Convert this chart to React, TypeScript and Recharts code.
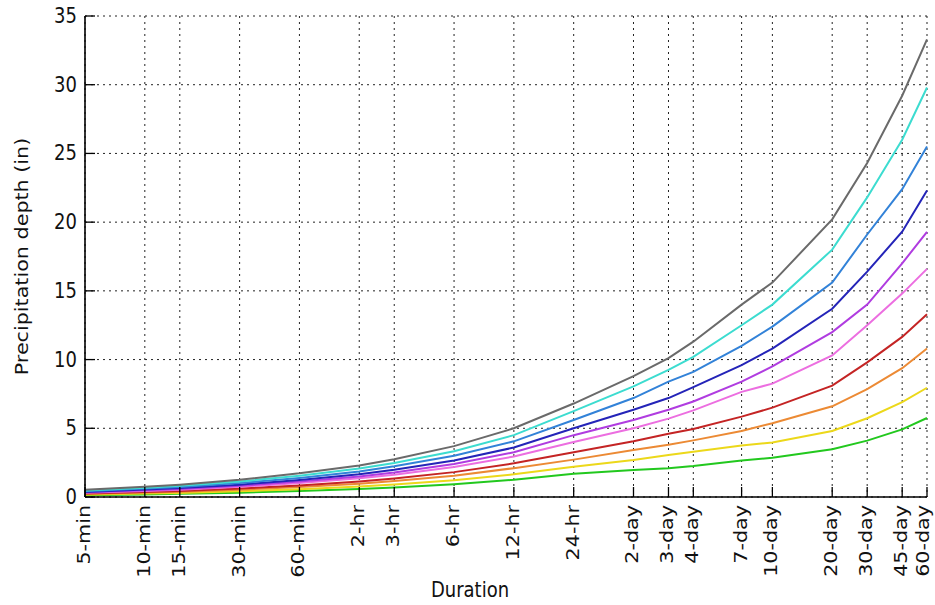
import React from 'react';
import { LineChart, Line, XAxis, YAxis, CartesianGrid } from 'recharts';

const durations = [5, 10, 15, 30, 60, 120, 180, 360, 720, 1440, 2880, 4320, 5760, 10080, 14400, 28800, 43200, 64800, 86400];
const durationLabels = ['5-min', '10-min', '15-min', '30-min', '60-min', '2-hr', '3-hr', '6-hr', '12-hr', '24-hr', '2-day', '3-day', '4-day', '7-day', '10-day', '20-day', '30-day', '45-day', '60-day'];
const depthTicks = [0, 5, 10, 15, 20, 25, 30, 35];

const y1 = [0.13, 0.19, 0.23, 0.31, 0.43, 0.58, 0.69, 0.93, 1.25, 1.7, 1.97, 2.1, 2.25, 2.65, 2.85, 3.47, 4.1, 4.92, 5.75];
const y2 = [0.17, 0.25, 0.3, 0.41, 0.57, 0.76, 0.91, 1.22, 1.65, 2.2, 2.69, 3.06, 3.3, 3.75, 3.97, 4.8, 5.73, 6.9, 7.95];
const y5 = [0.22, 0.32, 0.38, 0.53, 0.72, 0.97, 1.16, 1.55, 2.1, 2.72, 3.42, 3.8, 4.12, 4.8, 5.37, 6.6, 7.85, 9.37, 10.8];
const y10 = [0.25, 0.37, 0.44, 0.61, 0.84, 1.13, 1.35, 1.81, 2.45, 3.25, 4.05, 4.6, 4.95, 5.85, 6.5, 8.1, 9.8, 11.65, 13.3];
const y25 = [0.31, 0.44, 0.53, 0.74, 1.01, 1.36, 1.62, 2.18, 2.95, 4.0, 5.0, 5.7, 6.3, 7.65, 8.25, 10.3, 12.5, 14.8, 16.6];
const y50 = [0.34, 0.49, 0.59, 0.81, 1.12, 1.5, 1.79, 2.4, 3.25, 4.5, 5.6, 6.35, 6.95, 8.4, 9.5, 12.0, 14.0, 17.0, 19.3];
const y100 = [0.37, 0.54, 0.65, 0.9, 1.24, 1.66, 1.98, 2.66, 3.6, 5.0, 6.35, 7.2, 8.0, 9.6, 10.8, 13.7, 16.4, 19.3, 22.3];
const y200 = [0.42, 0.61, 0.73, 1.01, 1.39, 1.86, 2.23, 3.0, 4.05, 5.6, 7.2, 8.4, 9.1, 11.0, 12.4, 15.6, 19.1, 22.4, 25.5];
const y500 = [0.47, 0.68, 0.81, 1.13, 1.55, 2.07, 2.48, 3.33, 4.5, 6.25, 8.05, 9.25, 10.2, 12.5, 14.0, 18.0, 21.8, 26.0, 29.8];
const y1000 = [0.52, 0.75, 0.9, 1.25, 1.72, 2.3, 2.75, 3.7, 5.0, 6.8, 8.8, 10.1, 11.3, 14.0, 15.6, 20.2, 24.3, 29.2, 33.3];

const seriesList = [
  { key: 'y1', values: y1, color: '#22c81e' },
  { key: 'y2', values: y2, color: '#ecd81a' },
  { key: 'y5', values: y5, color: '#ec8a34' },
  { key: 'y10', values: y10, color: '#c42424' },
  { key: 'y25', values: y25, color: '#ec6ee0' },
  { key: 'y50', values: y50, color: '#b03ce0' },
  { key: 'y100', values: y100, color: '#2424b8' },
  { key: 'y200', values: y200, color: '#3282d8' },
  { key: 'y500', values: y500, color: '#3cdcd0' },
  { key: 'y1000', values: y1000, color: '#6a6a6a' },
];

const data = durations.map((d, i) => {
  const row: any = { duration: d };
  seriesList.forEach((s) => { row[s.key] = s.values[i]; });
  return row;
});

const FONT = 'DejaVu Sans';
const CHART_W = 935;

const BottomTick = (props: any) => {
  const { x, y, payload } = props;
  const idx = durations.indexOf(payload.value);
  const ax = Math.min(x + 5, CHART_W - 6);
  return (
    <g>
      <line x1={x} y1={y} x2={x} y2={y - 10} stroke="#000" strokeWidth={1.3} />
      <text
        transform={`translate(${ax},${y + 8}) rotate(-90) scale(1.15,1)`}
        textAnchor="end"
        fontSize={18}
        fontFamily={FONT}
        fill="#111"
      >
        {durationLabels[idx]}
      </text>
    </g>
  );
};

const TopTick = (props: any) => {
  const { x, y } = props;
  return <line x1={x} y1={y} x2={x} y2={y + 10} stroke="#000" strokeWidth={1.3} />;
};

const LeftTick = (props: any) => {
  const { x, y, payload } = props;
  return (
    <g>
      <line x1={x} y1={y} x2={x + 10} y2={y} stroke="#000" strokeWidth={1.3} />
      <text
        transform={`translate(${x - 8},${y + 7}) scale(1,1.15)`}
        textAnchor="end"
        fontSize={18}
        fontFamily={FONT}
        fill="#111"
      >
        {payload.value}
      </text>
    </g>
  );
};

const RightTick = (props: any) => {
  const { x, y } = props;
  return <line x1={x} y1={y} x2={x - 10} y2={y} stroke="#000" strokeWidth={1.3} />;
};

const renderYLabel = (props: any) => {
  const vb = props.viewBox || {};
  const cy = vb.y + vb.height / 2;
  return (
    <text
      transform={`translate(28,${cy}) rotate(-90) scale(1.15,1)`}
      textAnchor="middle"
      fontSize={18}
      fontFamily={FONT}
      fill="#111"
    >
      Precipitation depth (in)
    </text>
  );
};

const renderXLabel = (props: any) => {
  const vb = props.viewBox || {};
  const cx = vb.x + vb.width / 2 - 36;
  return (
    <text
      transform={`translate(${cx},597) scale(1,1.15)`}
      textAnchor="middle"
      fontSize={18}
      fontFamily={FONT}
      fill="#111"
    >
      Duration
    </text>
  );
};

export default function App() {
  return (
    <div style={{ position: 'absolute', left: 0, top: 0, width: 935, height: 605, background: '#fff' }}>
      <LineChart width={CHART_W} height={605} data={data} margin={{ top: 16, right: 8, bottom: 0, left: 0 }}>
        <CartesianGrid stroke="#222" strokeWidth={1} strokeDasharray="2 4" />
        <XAxis
          dataKey="duration"
          type="number"
          scale="log"
          domain={[5, 86400]}
          ticks={durations}
          interval={0}
          height={108}
          tickSize={0}
          tickMargin={0}
          tickLine={false}
          axisLine={{ stroke: '#000', strokeWidth: 1.6 }}
          tick={<BottomTick />}
          label={renderXLabel}
        />
        <XAxis
          xAxisId="top"
          orientation="top"
          dataKey="duration"
          type="number"
          scale="log"
          domain={[5, 86400]}
          ticks={durations}
          interval={0}
          height={0}
          tickSize={0}
          tickMargin={0}
          tickLine={false}
          axisLine={{ stroke: '#000', strokeWidth: 1.6 }}
          tick={<TopTick />}
        />
        <YAxis
          domain={[0, 35]}
          ticks={depthTicks}
          interval={0}
          width={85}
          tickSize={0}
          tickMargin={0}
          tickLine={false}
          axisLine={{ stroke: '#000', strokeWidth: 1.6 }}
          tick={<LeftTick />}
          label={renderYLabel}
        />
        <YAxis
          yAxisId="right"
          orientation="right"
          domain={[0, 35]}
          ticks={depthTicks}
          interval={0}
          width={0}
          tickSize={0}
          tickMargin={0}
          tickLine={false}
          axisLine={{ stroke: '#000', strokeWidth: 1.6 }}
          tick={<RightTick />}
        />
        {seriesList.map((s) => (
          <Line
            key={s.key}
            dataKey={s.key}
            stroke={s.color}
            strokeWidth={2}
            dot={false}
            type="linear"
            isAnimationActive={false}
          />
        ))}
      </LineChart>
    </div>
  );
}
